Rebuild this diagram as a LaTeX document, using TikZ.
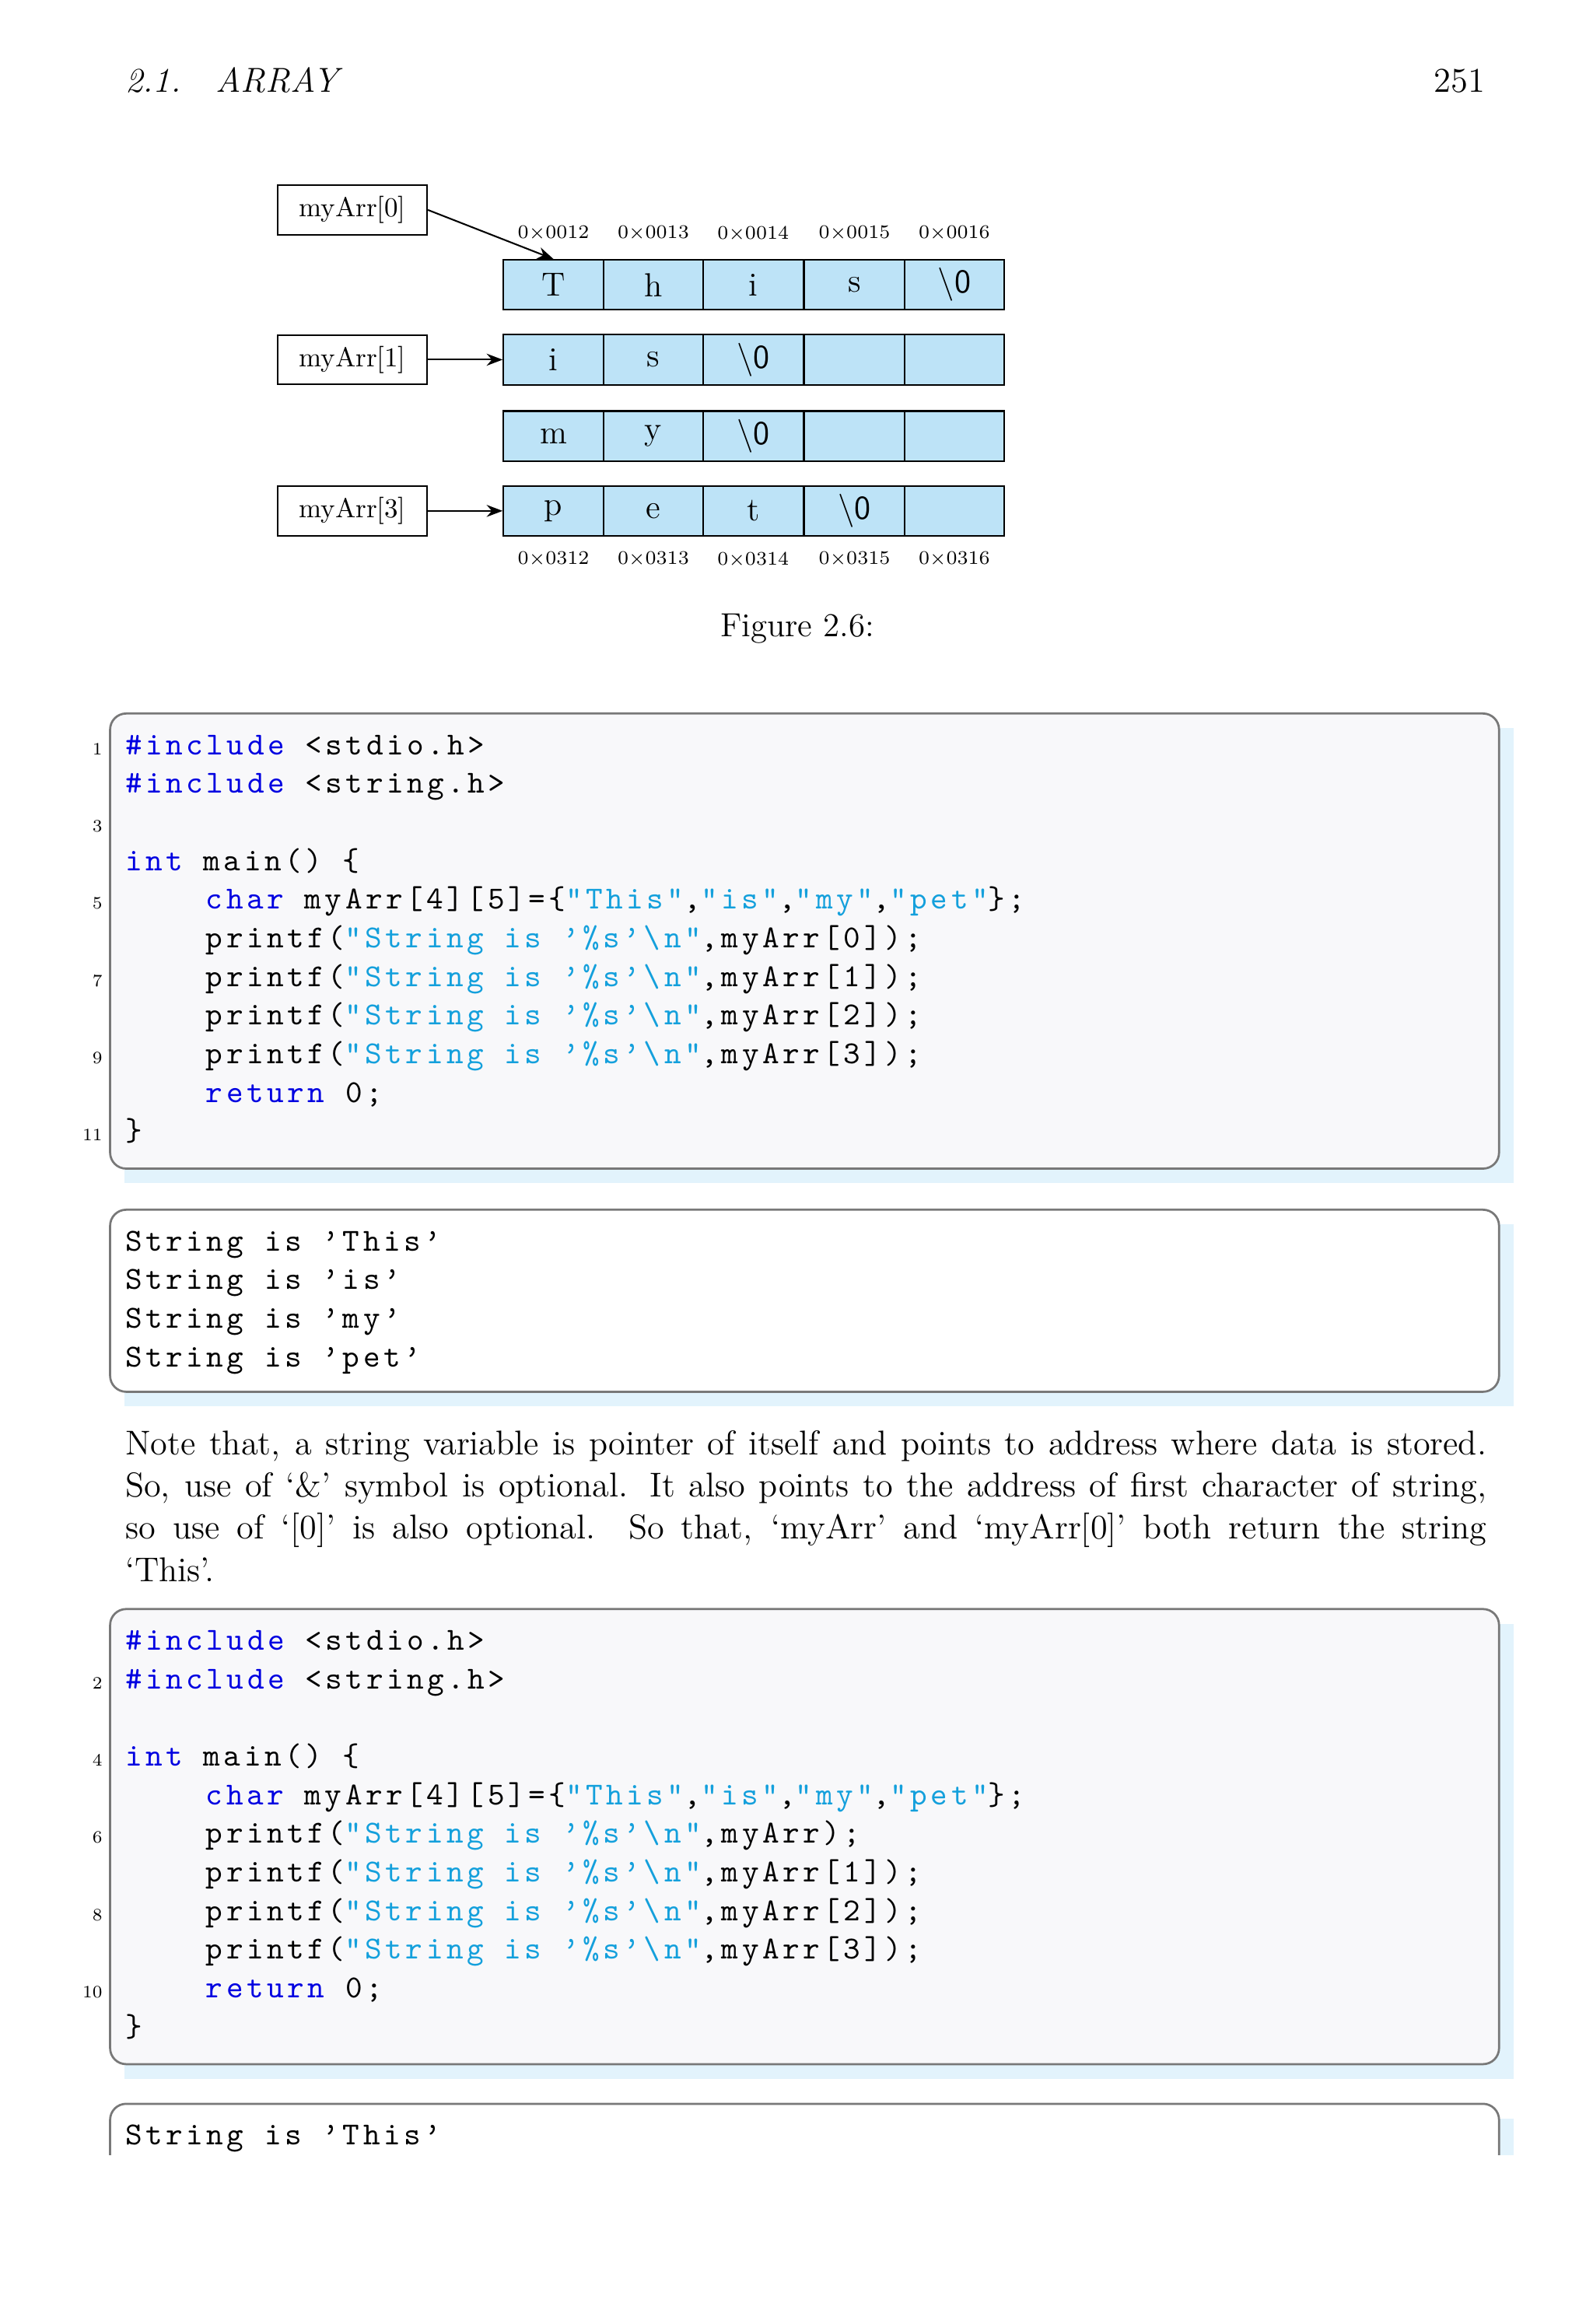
\documentclass[tikz,border=0pt]{standalone}
\usepackage{fontspec}
\newfontfamily\codefont[LetterSpace=11]{lmmono10-regular.otf}
\usetikzlibrary{arrows.meta}
\definecolor{cellblue}{RGB}{189,227,247}
\definecolor{kwblue}{RGB}{0,0,225}
\definecolor{strcyan}{RGB}{20,160,220}
\definecolor{codebg}{RGB}{248,248,250}
\definecolor{shadowblue}{RGB}{226,243,252}
\definecolor{frameg}{RGB}{120,120,120}
\newcommand{\kw}[1]{\textcolor{kwblue}{#1}}
\newcommand{\st}[1]{\textcolor{strcyan}{#1}}
\newcommand{\bsl}{\textbackslash}
\newcommand{\codesel}{\codefont\fontsize{12}{14}\selectfont\fontdimen2\font=7.8pt\relax}
\begin{document}
\begin{tikzpicture}[x=0.55pt,y=-0.55pt,
  ptrbox/.style={draw,semithick,minimum width=56pt,minimum height=18.5pt,inner sep=0pt,font=\fontsize{10.2}{12}\selectfont},
  cellbox/.style={draw,semithick,fill=cellblue,minimum width=37.5pt,minimum height=18.7pt,inner sep=0pt,font=\fontsize{12.5}{14}\selectfont},
  addr/.style={font=\fontsize{7.2}{8}\selectfont,inner sep=0pt},
  code/.style={anchor=base west,inner sep=0pt,font=\codesel},
  lnum/.style={anchor=base east,inner sep=0pt,font=\fontsize{6.5}{8}\selectfont},
  codeframe/.style={draw=frameg,thick,rounded corners=6pt},
  ptrarrow/.style={semithick,-{Stealth[length=6pt]}}]
\useasboundingbox (0,0) rectangle (1085,1583);
\fill[white] (0,0) rectangle (1085,1583);
% header
\node[anchor=base west,inner sep=0pt,font=\fontsize{13}{15}\selectfont\itshape] (hdr) at (85,63) {2.1.\quad ARRAY};
\node[anchor=base east,inner sep=0pt,font=\fontsize{13}{15}\selectfont] (pg) at (1012,63) {251};
% figure
\node[ptrbox] (p0) at (240,143) {myArr[0]};
\node[ptrbox] (p1) at (240,245) {myArr[1]};
\node[ptrbox] (p3) at (240,348) {myArr[3]};
\newcommand{\cellrow}[7]{%
  \node[cellbox] (#1a) at (377,#2) {#3};
  \node[cellbox] (#1b) at (445,#2) {#4};
  \node[cellbox] (#1c) at (513,#2) {#5};
  \node[cellbox] (#1d) at (582,#2) {#6};
  \node[cellbox] (#1e) at (650,#2) {#7};}
\cellrow{r0}{194}{T}{h}{i}{s}{\bsl\textsf{0}}
\cellrow{r1}{245}{i}{s}{\bsl\textsf{0}}{}{}
\cellrow{r2}{297}{m}{y}{\bsl\textsf{0}}{}{}
\cellrow{r3}{348}{p}{e}{t}{\bsl\textsf{0}}{}
\node[addr] (a1) at (377,159) {0$\times$0012};
\node[addr] (a2) at (445,159) {0$\times$0013};
\node[addr] (a3) at (513,159) {0$\times$0014};
\node[addr] (a4) at (582,159) {0$\times$0015};
\node[addr] (a5) at (650,159) {0$\times$0016};
\node[addr] (b1) at (377,381) {0$\times$0312};
\node[addr] (b2) at (445,381) {0$\times$0313};
\node[addr] (b3) at (513,381) {0$\times$0314};
\node[addr] (b4) at (582,381) {0$\times$0315};
\node[addr] (b5) at (650,381) {0$\times$0316};
\draw[ptrarrow] (p0.east) -- (r0a.north);
\draw[ptrarrow] (p1.east) -- (r1a.west);
\draw[ptrarrow] (p3.east) -- (r3a.west);
\node[font=\fontsize{12.5}{14}\selectfont] (cap) at (543,428) {Figure 2.6:};
% code box 1
\fill[shadowblue] (85,496) rectangle (1031,806);
\filldraw[codeframe,fill=codebg] (75,486) rectangle (1021,796);
\node[code] (c1) at (85,514) {\kw{\#include} <stdio.h>};
\node[code] (c2) at (85,540.3) {\kw{\#include} <string.h>};
\node[code] (c4) at (85,592.9) {\kw{int} main() \{};
\node[code] (c5) at (140,619.2) {\kw{char} myArr[4][5]=\{\st{"This"},\st{"is"},\st{"my"},\st{"pet"}\};};
\node[code] (c6) at (140,645.5) {printf(\st{"String is ’\%s’\bsl n"},myArr[0]);};
\node[code] (c7) at (140,671.8) {printf(\st{"String is ’\%s’\bsl n"},myArr[1]);};
\node[code] (c8) at (140,698.1) {printf(\st{"String is ’\%s’\bsl n"},myArr[2]);};
\node[code] (c9) at (140,724.4) {printf(\st{"String is ’\%s’\bsl n"},myArr[3]);};
\node[code] (c10) at (140,750.7) {\kw{return} 0;};
\node[code] (c11) at (85,777) {\}};
\node[lnum] (n1) at (70,514) {1};
\node[lnum] (n3) at (70,566.6) {3};
\node[lnum] (n5) at (70,619.2) {5};
\node[lnum] (n7) at (70,671.8) {7};
\node[lnum] (n9) at (70,724.4) {9};
\node[lnum] (n11) at (70,777) {11};
% output box 1
\fill[shadowblue] (85,834) rectangle (1031,958);
\filldraw[codeframe,fill=white] (75,824) rectangle (1021,948);
\node[code] (o1) at (85,852) {String is ’This’};
\node[code] (o2) at (85,878.3) {String is ’is’};
\node[code] (o3) at (85,904.6) {String is ’my’};
\node[code] (o4) at (85,930.9) {String is ’pet’};
% paragraph
\node[anchor=north west,inner sep=0pt,text width=509.9pt,align=justify,font=\fontsize{12.9}{15.8}\selectfont] (para) at (85,974) {Note that, a string variable is pointer of itself and points to address where data is stored.\linebreak
So, use of ‘\&’ symbol is optional. It also points to the address of first character of string,\linebreak
so use of ‘[0]’ is also optional. So that, ‘myArr’ and ‘myArr[0]’ both return the string\linebreak
‘This’.};
% code box 2
\fill[shadowblue] (85,1106) rectangle (1031,1416);
\filldraw[codeframe,fill=codebg] (75,1096) rectangle (1021,1406);
\node[code] (d1) at (85,1124) {\kw{\#include} <stdio.h>};
\node[code] (d2) at (85,1150.3) {\kw{\#include} <string.h>};
\node[code] (d4) at (85,1202.9) {\kw{int} main() \{};
\node[code] (d5) at (140,1229.2) {\kw{char} myArr[4][5]=\{\st{"This"},\st{"is"},\st{"my"},\st{"pet"}\};};
\node[code] (d6) at (140,1255.5) {printf(\st{"String is ’\%s’\bsl n"},myArr);};
\node[code] (d7) at (140,1281.8) {printf(\st{"String is ’\%s’\bsl n"},myArr[1]);};
\node[code] (d8) at (140,1308.1) {printf(\st{"String is ’\%s’\bsl n"},myArr[2]);};
\node[code] (d9) at (140,1334.4) {printf(\st{"String is ’\%s’\bsl n"},myArr[3]);};
\node[code] (d10) at (140,1360.7) {\kw{return} 0;};
\node[code] (d11) at (85,1387) {\}};
\node[lnum] (m2) at (70,1150.3) {2};
\node[lnum] (m4) at (70,1202.9) {4};
\node[lnum] (m6) at (70,1255.5) {6};
\node[lnum] (m8) at (70,1308.1) {8};
\node[lnum] (m10) at (70,1360.7) {10};
% output box 2 (cut)
\fill[shadowblue] (85,1443) rectangle (1031,1468);
\fill[white] (75,1433) rectangle (1021,1468);
\draw[frameg,thick,rounded corners=6pt] (75,1468) -- (75,1433) -- (1021,1433) -- (1021,1468);
\node[code] (q1) at (85,1461) {String is ’This’};
\end{tikzpicture}
\end{document}
